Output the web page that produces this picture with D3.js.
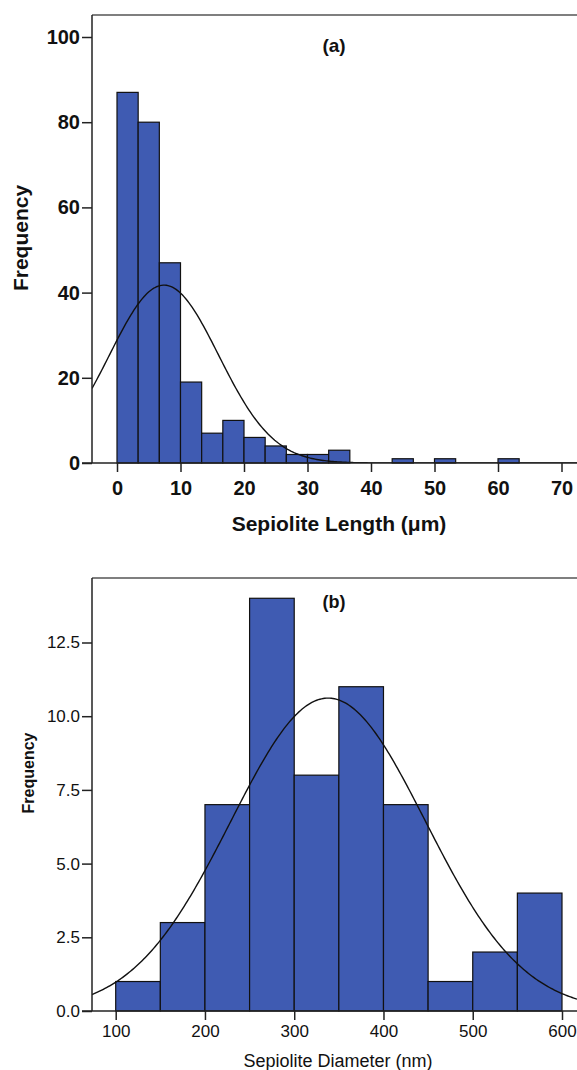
<!DOCTYPE html>
<html>
<head>
<meta charset="utf-8">
<script src="https://cdn.jsdelivr.net/npm/d3@7"></script>
<style>
  body { margin: 0; background: #fff; }
  text { font-family: "Liberation Sans", Arial, sans-serif; fill: #111; }
</style>
</head>
<body>
<div id="chart"></div>
<script>
// Panel (a): sepiolite length, bins of 10/3 µm starting at 0
const lengthBinStart = 0;
const lengthBinWidth = 10 / 3;
const lengthCounts = [87, 80, 47, 19, 7, 10, 6, 4, 2, 2, 3, 0, 0, 1, 0, 1, 0, 0, 1];
const lengthTicksX = [0, 10, 20, 30, 40, 50, 60, 70];
const lengthTicksY = [0, 20, 40, 60, 80, 100];
const lengthFit = { mean: 7.4, sd: 8.6 };

// Panel (b): sepiolite diameter, bins of 50 nm starting at 100
const diamBinStart = 100;
const diamBinWidth = 50;
const diamCounts = [1, 3, 7, 14, 8, 11, 7, 1, 2, 4];
const diamTicksX = [100, 200, 300, 400, 500, 600];
const diamTicksY = [0, 2.5, 5, 7.5, 10, 12.5];
const diamFit = { mean: 338, sd: 109 };

const barColor = "#3f5bb2";

const svg = d3.select("#chart").append("svg")
  .attr("width", 577)
  .attr("height", 1070);

function normalCurve(fit, n, w, x0, x1) {
  // expected frequency per bin for the fitted normal curve
  const pts = [];
  const steps = 300;
  for (let i = 0; i <= steps; i++) {
    const x = x0 + (x1 - x0) * i / steps;
    const z = (x - fit.mean) / fit.sd;
    pts.push([x, n * w / (fit.sd * Math.sqrt(2 * Math.PI)) * Math.exp(-0.5 * z * z)]);
  }
  return pts;
}

function drawPanel(cfg) {
  const g = svg.append("g");
  const x = d3.scaleLinear().domain(cfg.xDomain).range(cfg.xRange);
  const y = d3.scaleLinear().domain(cfg.yDomain).range(cfg.yRange);
  const left = cfg.frameLeft, right = 577, top = cfg.frameTop, bottom = y(0);

  const clipId = "clip" + cfg.id;
  g.append("clipPath").attr("id", clipId)
    .append("rect").attr("x", left).attr("y", top)
    .attr("width", right - left).attr("height", bottom - top);

  // bars
  const bins = cfg.counts.map((c, i) => ({
    x0: cfg.binStart + i * cfg.binWidth,
    x1: cfg.binStart + (i + 1) * cfg.binWidth,
    c: c
  })).filter(d => d.c > 0);

  g.selectAll(".bar")
    .data(bins)
    .enter().append("rect")
    .attr("class", "bar")
    .attr("x", d => x(d.x0))
    .attr("y", d => y(d.c))
    .attr("width", d => x(d.x1) - x(d.x0))
    .attr("height", d => y(0) - y(d.c))
    .attr("fill", barColor)
    .attr("stroke", "#111")
    .attr("stroke-width", 1.2);

  // normal curve
  const total = d3.sum(cfg.counts);
  const pts = normalCurve(cfg.fit, total, cfg.binWidth, x.invert(left), x.invert(right));
  g.append("path")
    .datum(pts)
    .attr("clip-path", "url(#" + clipId + ")")
    .attr("fill", "none")
    .attr("stroke", "#111")
    .attr("stroke-width", 1.4)
    .attr("d", d3.line().x(d => x(d[0])).y(d => y(d[1])));

  // frame top
  g.append("line")
    .attr("x1", left).attr("x2", right)
    .attr("y1", top).attr("y2", top)
    .attr("stroke", "#555").attr("stroke-width", 1.5);

  const styleTicks = sel => sel.selectAll(".tick text")
    .style("font-family", '"Liberation Sans", Arial, sans-serif')
    .style("font-size", cfg.tickSize + "px")
    .style("font-weight", cfg.tickWeight)
    .attr("fill", "#111");

  // y axis
  const yAxis = g.append("g")
    .attr("transform", `translate(${left},0)`)
    .call(d3.axisLeft(y).tickValues(cfg.ticksY).tickSize(10).tickPadding(2)
      .tickFormat(cfg.yFormat));
  yAxis.select(".domain").attr("d", `M0,${top}V${bottom}`).attr("stroke", "#222").attr("stroke-width", 1.5);
  yAxis.selectAll(".tick line").attr("stroke", "#222").attr("stroke-width", 1.5);
  styleTicks(yAxis);

  // x axis
  const xAxis = g.append("g")
    .attr("transform", `translate(0,${bottom})`)
    .call(d3.axisBottom(x).tickValues(cfg.ticksX).tickSize(9).tickPadding(cfg.xPad));
  xAxis.select(".domain").attr("d", `M${left - 10},0H${right}`).attr("stroke", "#222").attr("stroke-width", 1.5);
  xAxis.selectAll(".tick line").attr("stroke", "#222").attr("stroke-width", 1.5);
  styleTicks(xAxis);

  // labels
  g.append("text")
    .attr("x", 334).attr("y", cfg.tagY)
    .attr("text-anchor", "middle")
    .style("font-size", cfg.tagSize + "px")
    .style("font-weight", "bold")
    .text(cfg.tag);

  g.append("text")
    .attr("x", cfg.xTitleX).attr("y", cfg.xTitleY)
    .attr("text-anchor", "middle")
    .style("font-size", cfg.titleSize + "px")
    .style("font-weight", cfg.titleWeight)
    .text(cfg.xTitle);

  g.append("text")
    .attr("transform", `translate(${cfg.yTitleX},${cfg.yTitleY}) rotate(-90)`)
    .attr("text-anchor", "middle")
    .style("font-size", cfg.yTitleSize + "px")
    .style("font-weight", "bold")
    .text("Frequency");
}

drawPanel({
  id: "a",
  xDomain: [0, 70], xRange: [117, 561.5],
  yDomain: [0, 100], yRange: [463, 37],
  frameLeft: 92, frameTop: 15,
  counts: lengthCounts, binStart: lengthBinStart, binWidth: lengthBinWidth,
  fit: lengthFit,
  ticksX: lengthTicksX, ticksY: lengthTicksY,
  yFormat: d3.format("d"),
  tickSize: 20, tickWeight: "bold", xPad: 9,
  tag: "(a)", tagY: 52, tagSize: 19,
  xTitle: "Sepiolite Length (μm)", xTitleX: 339, xTitleY: 531,
  titleSize: 21, titleWeight: "bold",
  yTitleX: 28, yTitleY: 238, yTitleSize: 21
});

drawPanel({
  id: "b",
  xDomain: [100, 600], xRange: [115.7, 562],
  yDomain: [0, 12.5], yRange: [1011, 642.5],
  frameLeft: 92, frameTop: 578,
  counts: diamCounts, binStart: diamBinStart, binWidth: diamBinWidth,
  fit: diamFit,
  ticksX: diamTicksX, ticksY: diamTicksY,
  yFormat: d3.format(".1f"),
  tickSize: 17, tickWeight: "normal", xPad: 5,
  tag: "(b)", tagY: 608, tagSize: 18,
  xTitle: "Sepiolite Diameter (nm)", xTitleX: 338, xTitleY: 1067,
  titleSize: 18, titleWeight: "normal",
  yTitleX: 34, yTitleY: 773, yTitleSize: 16
});
</script>
</body>
</html>
